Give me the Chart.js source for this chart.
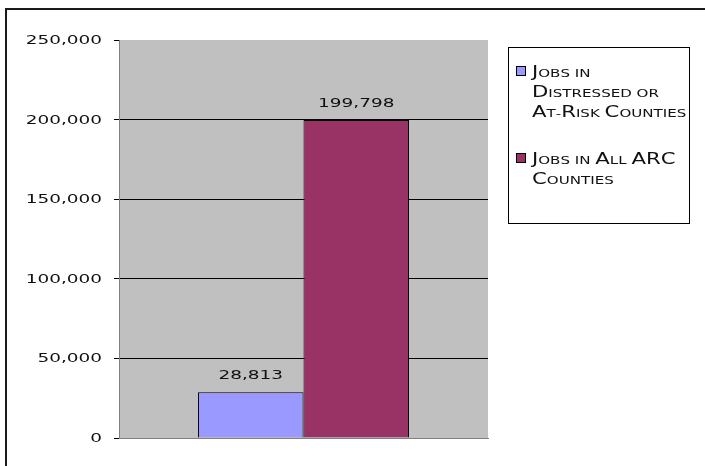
<!DOCTYPE html>
<html>
<head>
<meta charset="utf-8">
<script src="https://cdn.jsdelivr.net/npm/chart.js@4/dist/chart.umd.min.js"></script>
<style>
  body { margin: 0; background: #fff; }
</style>
</head>
<body>
<canvas id="jobs" width="705" height="466"></canvas>
<script>
const seriesNames = ['Jobs in Distressed or At-Risk Counties', 'Jobs in All ARC Counties']
const legendLines = [['Jobs in', 'Distressed or', 'At-Risk Counties'], ['Jobs in All ARC', 'Counties']]
const jobs = [28813, 199798]
const barColors = ['#9999FF', '#993366']
const yMax = 250000
const yStep = 50000

const FONT = '"DejaVu Sans"'

function fmt(v) {
  return v.toLocaleString('en-US')
}

// wide lettering: draw normally, then stretch sideways
function wideText(ctx, str, x, y, size, stretch, align) {
  ctx.save()
  ctx.font = size + 'px ' + FONT
  let w = ctx.measureText(str).width * stretch
  let left = align === 'right' ? x - w : align === 'center' ? x - w / 2 : x
  ctx.translate(left, y)
  ctx.scale(stretch, 1)
  ctx.textAlign = 'left'
  ctx.textBaseline = 'alphabetic'
  ctx.fillText(str, 0, 0)
  ctx.restore()
}

// small caps by hand: capitals at full size, the rest uppercased and smaller
function smallCaps(ctx, str, x, y, big, small, stretch) {
  ctx.save()
  ctx.translate(x, y)
  ctx.scale(stretch, 1)
  ctx.textAlign = 'left'
  ctx.textBaseline = 'alphabetic'
  let cx = 0
  for (let ch of str) {
    let isCap = ch !== ch.toLowerCase()
    ctx.font = (isCap ? big : small) + 'px ' + FONT
    let c = ch.toUpperCase()
    ctx.fillText(c, cx, 0)
    cx += ctx.measureText(c).width
  }
  ctx.restore()
}

const sheetPlugin = {
  id: 'sheet',
  beforeDraw(chart) {
    const { ctx, chartArea: a } = chart
    ctx.save()
    ctx.fillStyle = '#C0C0C0'
    ctx.fillRect(a.left, a.top, a.right - a.left, a.bottom - a.top)
    // outer frame, running off the right and bottom edges
    ctx.strokeStyle = '#1a1a1a'
    ctx.lineWidth = 2
    ctx.beginPath()
    ctx.moveTo(6, 480)
    ctx.lineTo(6, 9)
    ctx.lineTo(720, 9)
    ctx.stroke()
    ctx.restore()
  },
  afterDraw(chart) {
    const { ctx } = chart
    const y = chart.scales.y
    ctx.save()
    ctx.fillStyle = '#111'

    // y tick labels
    for (let t of y.ticks) {
      wideText(ctx, fmt(t.value), 102, y.getPixelForValue(t.value) + 4, 11.4, 1.62, 'right')
    }

    // value labels above the bars
    chart.data.datasets.forEach((ds, i) => {
      const bar = chart.getDatasetMeta(i).data[0]
      wideText(ctx, fmt(ds.data[0]), bar.x, bar.y - 13, 11.4, 1.62, 'center')
    })

    // legend box
    ctx.fillStyle = '#fff'
    ctx.fillRect(508.5, 47.5, 181, 176)
    ctx.strokeStyle = '#000'
    ctx.lineWidth = 1
    ctx.strokeRect(508.5, 47.5, 181, 176)
    const firstBase = [77, 164]
    legendLines.forEach((lines, i) => {
      const base = firstBase[i]
      ctx.fillStyle = barColors[i]
      ctx.fillRect(516.5, base - 10.5, 9, 9)
      ctx.strokeStyle = '#000'
      ctx.strokeRect(516.5, base - 10.5, 9, 9)
      ctx.fillStyle = '#111'
      lines.forEach((line, j) => {
        smallCaps(ctx, line, 532, base + j * 19.8, 15.5, 11, 1.37)
      })
    })
    ctx.restore()
  }
}

new Chart(document.getElementById('jobs'), {
  type: 'bar',
  data: {
    labels: [''],
    datasets: seriesNames.map((name, i) => ({
      label: name,
      data: [jobs[i]],
      backgroundColor: barColors[i],
      borderColor: '#000',
      borderWidth: 1,
      categoryPercentage: 0.572,
      barPercentage: 1
    }))
  },
  options: {
    responsive: false,
    animation: false,
    devicePixelRatio: 1,
    layout: { padding: { left: 0, right: 217, top: 40, bottom: 20 } },
    plugins: {
      legend: { display: false },
      tooltip: { enabled: false }
    },
    scales: {
      x: {
        ticks: { display: false },
        grid: { display: false },
        border: { color: '#808080', width: 1 }
      },
      y: {
        min: 0,
        max: yMax,
        ticks: { stepSize: yStep, color: 'rgba(0,0,0,0)', font: { size: 11 } },
        grid: {
          color: c => c.tick.value === 0 ? '#808080' : c.tick.value === yMax ? 'rgba(0,0,0,0)' : '#000',
          tickColor: '#000',
          tickLength: 5
        },
        border: { color: '#808080', width: 1 },
        afterFit(scale) { scale.width = 119 }
      }
    }
  },
  plugins: [sheetPlugin]
})
</script>
</body>
</html>
